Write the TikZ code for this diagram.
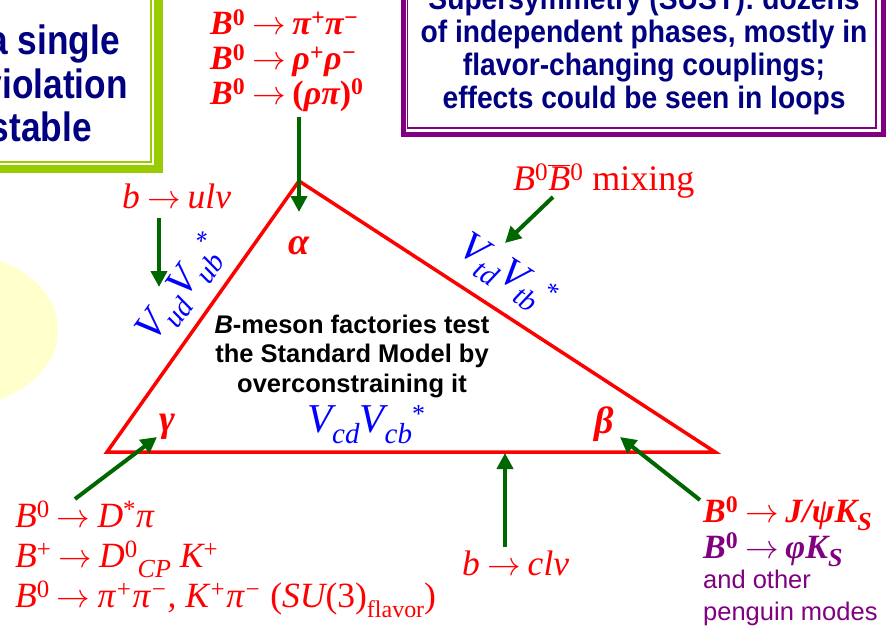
\documentclass[tikz,border=0pt]{standalone}
\usepackage{fontspec}
\setmainfont{Liberation Serif}
\setsansfont{Liberation Sans}
\usetikzlibrary{arrows.meta,positioning}
\definecolor{framegreen}{RGB}{153,204,0}
\definecolor{boxpurple}{RGB}{128,0,128}
\definecolor{navy}{RGB}{0,0,128}
\definecolor{arrgreen}{RGB}{0,102,0}
\definecolor{paleyellow}{RGB}{255,255,204}
\newcommand\ra{\hspace{0.2em}\scalebox{1.35}{\ensuremath{\rightarrow}}\hspace{0.2em}}
\newcommand\lowsub[2][9pt]{\raisebox{-#1}{\fontsize{26}{26}\selectfont #2}}
\newcommand\ckm[2]{V\raisebox{-11pt}{\fontsize{29}{29}\selectfont #1}V\raisebox{-11pt}{\fontsize{29}{29}\selectfont #2}\raisebox{10pt}{\fontsize{26}{26}\selectfont\upshape *}}
\newcommand\narrow[2][0.86]{\scalebox{#1}[1]{#2}}
\tikzset{
    tri/.style={draw=red,line width=3.5pt},
    push/.style={draw=arrgreen,line width=4pt,-{Triangle[width=16pt,length=16pt]}},
    headbox/.style={text=navy,font=\fontsize{41}{41}\selectfont\sffamily\bfseries,inner sep=0pt},
    susybox/.style={text=navy,font=\fontsize{31}{31}\selectfont\sffamily\bfseries,inner sep=0pt},
    decbold/.style={text=red,font=\fontsize{34}{34}\selectfont\bfseries\itshape,inner sep=0pt},
    decit/.style={text=red,font=\fontsize{35.5}{35.5}\selectfont\itshape,inner sep=0pt},
    vertexlab/.style={text=red,font=\fontsize{38}{38}\selectfont\bfseries\itshape,inner sep=0pt},
    ckmlab/.style={text=blue,font=\fontsize{41}{41}\selectfont\itshape,inner sep=0pt},
    claim/.style={text=black,font=\fontsize{25.5}{25.5}\selectfont\sffamily\bfseries,inner sep=0pt},
    penguin/.style={text=boxpurple,font=\fontsize{25.5}{25.5}\selectfont\sffamily,inner sep=0pt}
}

\begin{document}
\begin{tikzpicture}[x=1pt,y=-1pt]
  \useasboundingbox (0,0) rectangle (887,626);
  \clip (0,0) rectangle (887,626);
  \fill[white] (0,0) rectangle (887,626);

  % pale blob on the left
  \fill[paleyellow] (-45,330) ellipse [x radius=103,y radius=77];

  % boxes cut by the page edge
  \draw[draw=framegreen,line width=8.5pt] (-20,-20) rectangle (158.5,169);
  \draw[draw=framegreen,line width=2pt] (-20,-20) rectangle (151,162);
  \draw[draw=boxpurple,line width=5pt] (403,-20) rectangle (883.5,134.5);
  \draw[draw=boxpurple,line width=1.8pt] (407.5,-20) rectangle (876,128);

  \node[headbox,anchor=base east] (cp1) at (120,55)  {\narrow{a single}};
  \node[headbox,anchor=base east] (cp2) at (128,99)  {\narrow{violation}};
  \node[headbox,anchor=base east] (cp3) at (92,142)  {\narrow{stable}};

  \foreach \y/\txt [count=\i] in {10/{Supersymmetry (SUSY): dozens},
      43/{of independent phases, mostly in},
      76/{flavor-changing couplings;},
      109/{effects could be seen in loops}}{
    \node[susybox,anchor=base] (susy\i) at (644,\y) {\narrow[0.91]{\txt}};
  }

  % unitarity triangle
  \coordinate (alpha) at (299,181);
  \coordinate (gamma) at (107,452);
  \coordinate (beta)  at (715,452);
  \draw[tri] (alpha) -- (gamma) -- (beta) -- cycle;

  \node[vertexlab] (alab) at (299,246) {α};
  \node[vertexlab] (glab) at (167,427) {γ};
  \node[vertexlab] (blab) at (604,424) {β};

  \node[ckmlab,rotate=54.6]  (vud) at (183,290) {\ckm{ud}{ub}};
  \node[ckmlab,rotate=-33.1] (vtd) at (506,275) {\ckm{td}{tb}};
  \node[ckmlab,anchor=base west] (vcd) at (307,432) {\ckm{cd}{cb}};

  \node[claim,anchor=base] (fac1) at (352,333)   {\textit{B}-meson factories test};
  \node[claim,anchor=base] (fac2) at (352,362.5) {the Standard Model by};
  \node[claim,anchor=base] (fac3) at (352,392)   {overconstraining it};

  % decay modes
  \node[decbold,anchor=base west] (top1) at (210,35)  {B\textsuperscript{\upshape 0}\ra π\textsuperscript{+}π\textsuperscript{−}};
  \node[decbold,anchor=base west] (top2) at (210,70)  {B\textsuperscript{\upshape 0}\ra ρ\textsuperscript{+}ρ\textsuperscript{−}};
  \node[decbold,anchor=base west] (top3) at (210,104) {B\textsuperscript{\upshape 0}\ra {\upshape(}ρπ{\upshape)}\textsuperscript{\upshape 0}};

  \node[decit,anchor=base west] (ulv) at (122,208) {b\ra ulv};
  \node[decit,font=\fontsize{36}{36}\selectfont\itshape,anchor=base west] (mix) at (513,190) {B\textsuperscript{\upshape 0}\ensuremath{\overline{\mbox{\itshape B}}}\textsuperscript{\upshape 0} {\upshape mixing}};
  \node[decit,anchor=base west] (clv) at (462,575) {b\ra clv};

  \node[decit,anchor=base west] (bot1) at (15,527) {B\textsuperscript{\upshape 0}\ra D\textsuperscript{\upshape *}π};
  \node[decit,anchor=base west] (bot2) at (15,567) {B\textsuperscript{\upshape +}\ra D\textsuperscript{\upshape 0}\lowsub[10pt]{CP} K\textsuperscript{\upshape +}};
  \node[decit,anchor=base west] (bot3) at (15,607) {B\textsuperscript{\upshape 0}\ra π\textsuperscript{+}π\textsuperscript{−}, K\textsuperscript{+}π\textsuperscript{−} {\upshape(}SU{\upshape(3)}\lowsub[10pt]{\fontsize{24}{24}\selectfont\upshape flavor}{\upshape)}};

  \node[decbold,anchor=base west] (jpsi) at (703,522) {B\textsuperscript{\upshape 0}\ra J/ψK\lowsub[8pt]{S}};
  \node[decbold,text=boxpurple,anchor=base west] (phik) at (703,558) {B\textsuperscript{\upshape 0}\ra φK\lowsub[8pt]{S}};
  \node[penguin,anchor=base west] (oth1) at (703,588) {and other};
  \node[penguin,anchor=base west] (oth2) at (703,620) {penguin modes};

  % arrows into the triangle
  \coordinate (tailA) at (299,117);  \coordinate (tipA) at (299,212);
  \coordinate (tailU) at (159,218);  \coordinate (tipU) at (159,287);
  \coordinate (tailM) at (553,197);  \coordinate (tipM) at (505,243);
  \coordinate (tailG) at (75,499);   \coordinate (tipG) at (157,437);
  \coordinate (tailC) at (505,547);  \coordinate (tipC) at (505,453);
  \coordinate (tailB) at (700,500);  \coordinate (tipB) at (620,437);
  \draw[push] (tailA) -- (tipA);
  \draw[push] (tailU) -- (tipU);
  \draw[push] (tailM) -- (tipM);
  \draw[push] (tailG) -- (tipG);
  \draw[push] (tailC) -- (tipC);
  \draw[push] (tailB) -- (tipB);
\end{tikzpicture}
\end{document}
